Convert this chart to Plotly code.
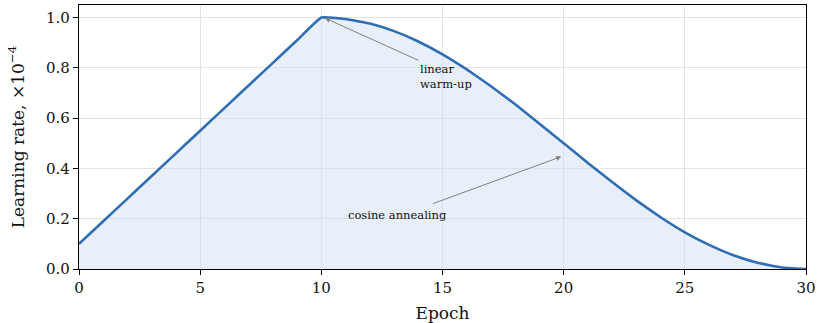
import plotly.graph_objects as go

# Learning-rate schedule (units of 1e-4), sampled per epoch
epochs = [0, 1, 2, 3, 4, 5, 6, 7, 8, 9, 10, 11, 12, 13, 14, 15, 16, 17, 18, 19,
          20, 21, 22, 23, 24, 25, 26, 27, 28, 29, 30]
lr = [0.10, 0.19, 0.28, 0.37, 0.46, 0.55, 0.64, 0.73, 0.82, 0.91, 1.00,
      0.994, 0.976, 0.946, 0.905, 0.854, 0.794, 0.727, 0.655, 0.578,
      0.500, 0.422, 0.346, 0.273, 0.206, 0.146, 0.096, 0.055, 0.025, 0.006, 0.0]

x_ticks = [0, 5, 10, 15, 20, 25, 30]
y_ticks = [0.0, 0.2, 0.4, 0.6, 0.8, 1.0]

FONT = "DejaVu Serif"
LINE = "#2f6db5"
TXT = "#111111"

fig = go.Figure()
fig.add_trace(go.Scatter(
    x=epochs, y=lr, mode="lines",
    line=dict(color=LINE, width=2.6, shape="spline", smoothing=0.3),
    fill="tozeroy", fillcolor="rgba(205,220,240,0.45)",
    hoverinfo="skip", showlegend=False,
))

ann_font = dict(family=FONT, size=11.5, color=TXT)
arrow_col = "#808080"

# warm-up label; its arrow starts at the label's top-left corner
fig.add_annotation(x=10.15, y=0.998, ax=14.0, ay=0.83, xref="x", yref="y",
                   axref="x", ayref="y", text="linear<br>warm-up", showarrow=True,
                   xanchor="left", yanchor="top", align="left",
                   arrowhead=2, arrowsize=1.0, arrowwidth=1, arrowcolor=arrow_col,
                   font=ann_font)

# annealing arrow and label
fig.add_annotation(x=19.9, y=0.447, ax=14.55, ay=0.258, xref="x", yref="y",
                   axref="x", ayref="y", text="", showarrow=True,
                   arrowhead=2, arrowsize=1.0, arrowwidth=1, arrowcolor=arrow_col)
fig.add_annotation(x=11.0, y=0.215, xref="x", yref="y", text="cosine annealing",
                   showarrow=False, xanchor="left", yanchor="middle",
                   font=ann_font)

axis_common = dict(
    showline=True, linecolor="black", linewidth=1.2, mirror=True,
    ticks="outside", ticklen=5, tickcolor="black",
    showgrid=True, gridcolor="#e3e3e3", gridwidth=1, zeroline=False,
    tickfont=dict(family=FONT, size=15, color=TXT),
    automargin=False,
)

fig.update_xaxes(range=[0, 30], tickvals=x_ticks,
                 title=dict(text="Epoch", font=dict(family=FONT, size=17, color=TXT),
                            standoff=12),
                 **axis_common)
fig.update_yaxes(range=[0, 1.05], tickvals=y_ticks, tickformat=".1f",
                 title=dict(text="Learning rate, ×10<sup>−4</sup>",
                            font=dict(family=FONT, size=17, color=TXT), standoff=17),
                 **axis_common)

fig.update_layout(
    width=817, height=323,
    margin=dict(l=79, r=11, t=5, b=54),
    paper_bgcolor="white", plot_bgcolor="white",
    font=dict(family=FONT),
)

fig.write_html("out.html")
